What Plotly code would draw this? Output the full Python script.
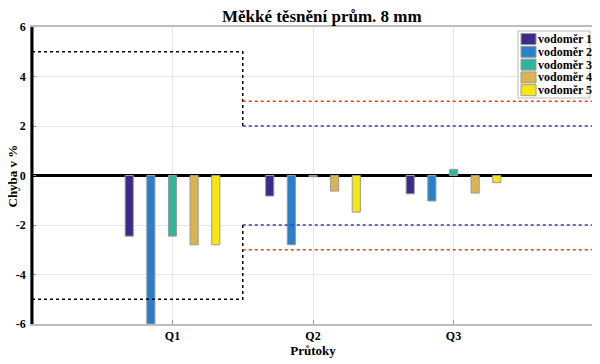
import plotly.graph_objects as go

categories = ["Q1", "Q2", "Q3"]
series_names = ["vodoměr 1", "vodoměr 2", "vodoměr 3", "vodoměr 4", "vodoměr 5"]
v1 = [-2.45, -0.83, -0.74]
v2 = [-6.0, -2.8, -1.03]
v3 = [-2.45, -0.05, 0.25]
v4 = [-2.8, -0.63, -0.71]
v5 = [-2.8, -1.48, -0.29]
series_values = [v1, v2, v3, v4, v5]
colors = ["#3b2a87", "#2a7fc8", "#2fb59a", "#d9b54f", "#f7e60f"]

# limit lines
lim_black_x = [0, 1.5, 1.5]
lim_black_upper = [5, 5, 2]
lim_black_lower = [-5, -5, -2]
lim_x2 = [1.5, 4]
lim_blue = 2
lim_red = 3

xpos = [1, 2, 3]
yticks = [-6, -4, -2, 0, 2, 4, 6]

W, H = 592, 356
ML, MR, MT, MB = 24, 6, 19, 40
PW, PH = W - ML - MR, H - MT - MB


def px(fx):
    return (fx - ML) / PW


def py(fy):
    return 1 - (fy - MT) / PH


fig = go.Figure()
bw = 0.058
step = 0.154
for i, (name, vals, c) in enumerate(zip(series_names, series_values, colors)):
    fig.add_trace(go.Bar(
        x=xpos, y=vals, name=name, width=bw, offset=-bw / 2 + (i - 2) * step,
        marker=dict(color=c, line=dict(color="#9a9a9a", width=1)), showlegend=False,
    ))

dot = dict(dash="dot", width=1.5)
fig.add_trace(go.Scatter(x=lim_black_x, y=lim_black_upper, mode="lines",
                         line=dict(color="black", **dot), showlegend=False, hoverinfo="skip"))
fig.add_trace(go.Scatter(x=lim_black_x, y=lim_black_lower, mode="lines",
                         line=dict(color="black", **dot), showlegend=False, hoverinfo="skip"))
for s in (1, -1):
    fig.add_trace(go.Scatter(x=lim_x2, y=[s * lim_red] * 2, mode="lines",
                             line=dict(color="#e8401c", **dot), showlegend=False, hoverinfo="skip"))
    fig.add_trace(go.Scatter(x=lim_x2, y=[s * lim_blue] * 2, mode="lines",
                             line=dict(color="#3a3ab0", **dot), showlegend=False, hoverinfo="skip"))

FAM = "Liberation Serif"


def f(size):
    return dict(size=size, family=FAM, color="black", weight="bold")


fig.update_layout(
    width=W, height=H,
    margin=dict(l=ML, r=MR, t=MT, b=MB),
    paper_bgcolor="white", plot_bgcolor="white",
    font=f(12),
    title=dict(text="Měkké těsnění prům. 8 mm", x=0.53, xanchor="center",
               y=1 - 8 / H, yanchor="middle", font=f(17)),
    xaxis=dict(range=[0, 4], tickvals=xpos, ticktext=categories, automargin=False,
               showgrid=True, gridcolor="#e6e6e6", zeroline=False,
               showline=True, linecolor="#bdbdbd", linewidth=1.5, mirror=True,
               ticks="inside", ticklen=4, tickcolor="#999", tickfont=f(12),
               title=dict(text="Průtoky", standoff=0, font=f(13))),
    yaxis=dict(range=[-6, 6], tickvals=yticks, ticktext=[str(t) for t in yticks],
               automargin=False,
               showgrid=True, gridcolor="#e6e6e6", zeroline=True, zerolinecolor="black",
               zerolinewidth=2.5, showline=True, linecolor="#bdbdbd", linewidth=1.5, mirror=True,
               ticks="inside", ticklen=4, tickcolor="#999", tickfont=f(12),
               ticklabelstandoff=2),
    showlegend=False,
)
# y axis title
fig.add_annotation(text="Chyba v %", xref="paper", yref="paper", x=px(4), y=0.5,
                   textangle=-90, showarrow=False, xanchor="center", yanchor="middle",
                   font=f(13), borderpad=0)
# thick black left axis
fig.add_shape(type="line", xref="paper", yref="paper", x0=0, x1=0, y0=0, y1=1,
              line=dict(color="black", width=3))

# legend drawn from the series names and colours
fig.add_shape(type="rect", xref="paper", yref="paper", x0=px(510), x1=px(582),
              y0=py(90), y1=py(23), line=dict(color="#bbbbbb", width=1), fillcolor="white")
for i, (name, c) in enumerate(zip(series_names, colors)):
    cy = 31 + i * 12.8
    fig.add_shape(type="rect", xref="paper", yref="paper", x0=px(513), x1=px(528),
                  y0=py(cy + 5.5), y1=py(cy - 5.5), line=dict(color="#9a9a9a", width=1),
                  fillcolor=c)
    fig.add_annotation(text=name, xref="paper", yref="paper", x=px(529), y=py(cy),
                       xanchor="left", yanchor="middle", showarrow=False, font=f(12),
                       borderpad=0, height=12, valign="middle")

fig.write_html("out.html")
